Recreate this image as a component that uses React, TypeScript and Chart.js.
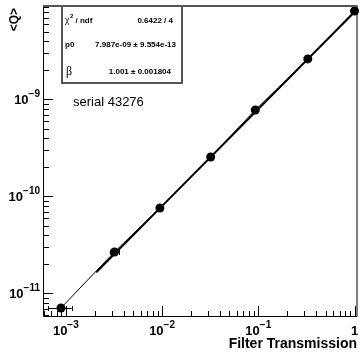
import { useEffect, useRef } from "react";
import { Chart, registerables } from "chart.js";

Chart.register(...registerables);

// ---- data ----
const transmission = [8.9e-4, 3.2e-3, 9.5e-3, 0.032, 0.093, 0.327, 1.0];
const meanQ = [7.09e-12, 2.68e-11, 7.61e-11, 2.55e-10, 7.79e-10, 2.62e-9, 8.17e-9];
const transLow = [6.52e-4, 2.85e-3, 9.3e-3, 0.0313, 0.091, 0.32, 0.98];
const transHigh = [1.153e-3, 3.56e-3, 9.7e-3, 0.0327, 0.095, 0.334, 1.02];
const fitX = [2.07e-3, 1.0];
const fitY = [1.65e-11, 7.99e-9];
const xTickExponents = [-3, -2, -1, 0];
const yTickExponents = [-11, -10, -9];
const statsLabels = ["χ", "p0", "β"];
const statsValues = ["0.6422 / 4", "7.987e-09 ± 9.554e-13", "1.001 ± 0.001804"];
const serialText = "serial 43276";
const xTitle = "Filter Transmission";
const yTitle = "<Q>";

const X_MIN = 5.79e-4;
const X_MAX = 1.074;
const Y_MIN = 5.86e-12;
const Y_MAX = 9.2e-9;

const SANS = '"Liberation Sans", Arial, Helvetica, sans-serif';
const SERIF = '"Liberation Serif", "DejaVu Serif", serif';

function drawPow(ctx: CanvasRenderingContext2D, exp: number, x: number, y: number, align: "center" | "right") {
  const base = exp === 0 ? "1" : "10";
  const sup = exp === 0 ? "" : "\u2212" + String(Math.abs(exp));
  ctx.font = `bold 13px ${SANS}`;
  const wb = ctx.measureText(base).width;
  ctx.font = `bold 10px ${SANS}`;
  const ws = sup ? ctx.measureText(sup).width : 0;
  const total = wb + ws;
  const x0 = align === "center" ? x - total / 2 : x - total;
  ctx.textAlign = "left";
  ctx.textBaseline = "alphabetic";
  ctx.font = `bold 13px ${SANS}`;
  ctx.fillText(base, x0, y);
  if (sup) {
    ctx.font = `bold 10px ${SANS}`;
    ctx.fillText(sup, x0 + wb, y - 7);
  }
}

const rootPlugin = {
  id: "rootStyle",
  beforeDatasetsDraw(chart: any) {
    const ctx: CanvasRenderingContext2D = chart.ctx;
    const xs = chart.scales.x;
    const ys = chart.scales.y;
    ctx.save();
    ctx.strokeStyle = "#000";
    ctx.lineWidth = 1;
    for (let i = 0; i < transmission.length; i++) {
      const yp = Math.round(ys.getPixelForValue(meanQ[i])) + 0.5;
      const xl = xs.getPixelForValue(transLow[i]);
      const xh = xs.getPixelForValue(transHigh[i]);
      ctx.beginPath();
      ctx.moveTo(xl, yp);
      ctx.lineTo(xh, yp);
      ctx.moveTo(Math.round(xl) + 0.5, yp - 2.5);
      ctx.lineTo(Math.round(xl) + 0.5, yp + 2.5);
      ctx.moveTo(Math.round(xh) + 0.5, yp - 2.5);
      ctx.lineTo(Math.round(xh) + 0.5, yp + 2.5);
      ctx.stroke();
    }
    ctx.restore();
  },
  afterDraw(chart: any) {
    const ctx: CanvasRenderingContext2D = chart.ctx;
    const { left, right, top, bottom } = chart.chartArea;
    const xs = chart.scales.x;
    const ys = chart.scales.y;
    ctx.save();
    ctx.fillStyle = "#000";
    ctx.strokeStyle = "#000";
    ctx.lineWidth = 1;

    // frame
    ctx.beginPath();
    ctx.moveTo(left + 0.5, top);
    ctx.lineTo(left + 0.5, bottom + 0.5);
    ctx.lineTo(right - 0.5, bottom + 0.5);
    ctx.lineTo(right - 0.5, top);
    ctx.stroke();
    ctx.strokeStyle = "#555";
    ctx.lineWidth = 2;
    ctx.beginPath();
    ctx.moveTo(left, top);
    ctx.lineTo(right, top);
    ctx.stroke();
    ctx.strokeStyle = "#000";
    ctx.lineWidth = 1;

    // y ticks
    ctx.beginPath();
    for (let n = -13; n <= -7; n++) {
      for (let k = 1; k <= 9; k++) {
        const v = k * Math.pow(10, n);
        if (v < Y_MIN || v > Y_MAX) continue;
        const yp = Math.round(ys.getPixelForValue(v)) + 0.5;
        ctx.moveTo(left, yp);
        ctx.lineTo(left + (k === 1 ? 10 : 6), yp);
      }
    }
    // x ticks
    for (let n = -5; n <= 1; n++) {
      for (let k = 1; k <= 9; k++) {
        const v = k * Math.pow(10, n);
        if (v < X_MIN || v > X_MAX) continue;
        const xp = Math.round(xs.getPixelForValue(v)) + 0.5;
        ctx.moveTo(xp, bottom);
        ctx.lineTo(xp, bottom - (k === 1 ? 10 : 5));
      }
    }
    ctx.stroke();

    // tick labels
    for (const e of xTickExponents) {
      const xp = xs.getPixelForValue(Math.pow(10, e));
      drawPow(ctx, e, xp, 335, "center");
    }
    for (const e of yTickExponents) {
      const yp = ys.getPixelForValue(Math.pow(10, e));
      drawPow(ctx, e, 40, yp + 5, "right");
    }

    // axis titles
    ctx.font = `bold 14px ${SANS}`;
    ctx.textAlign = "right";
    ctx.textBaseline = "alphabetic";
    ctx.fillText(xTitle, 357, 348);

    ctx.save();
    ctx.translate(18, 8);
    ctx.rotate(-Math.PI / 2);
    ctx.font = `bold 12px ${SANS}`;
    ctx.textAlign = "right";
    ctx.fillText(yTitle, 0, 0);
    ctx.restore();

    // serial text
    ctx.font = `13px ${SANS}`;
    ctx.textAlign = "left";
    ctx.fillText(serialText, 73, 106);

    // stats box
    const bx = 62, by = 6, bw = 120, bh = 77;
    ctx.fillStyle = "#fff";
    ctx.fillRect(bx, by, bw, bh);
    ctx.strokeStyle = "#555";
    ctx.lineWidth = 2;
    ctx.strokeRect(bx, by, bw, bh);
    ctx.fillStyle = "#000";

    // row 1: chi2 / ndf
    ctx.textAlign = "left";
    ctx.font = `10px ${SERIF}`;
    ctx.fillText(statsLabels[0], 65, 23);
    const wc = ctx.measureText(statsLabels[0]).width;
    ctx.font = `bold 6px ${SANS}`;
    ctx.fillText("2", 65 + wc + 0.5, 18);
    const w2 = ctx.measureText("2").width;
    ctx.font = `bold 8px ${SANS}`;
    ctx.fillText(" / ndf", 65 + wc + w2 + 0.5, 23);
    ctx.textAlign = "right";
    ctx.fillText(statsValues[0], 173, 23);

    // row 2: p0
    ctx.textAlign = "left";
    ctx.fillText(statsLabels[1], 65, 47);
    ctx.textAlign = "right";
    ctx.fillText(statsValues[1], 176, 47);

    // row 3: beta
    ctx.textAlign = "left";
    ctx.font = `12px ${SERIF}`;
    ctx.fillText(statsLabels[2], 66, 75);
    ctx.font = `bold 8px ${SANS}`;
    ctx.textAlign = "right";
    ctx.fillText(statsValues[2], 171, 74);

    ctx.restore();
  },
};

export default function App() {
  const canvasRef = useRef<HTMLCanvasElement | null>(null);

  useEffect(() => {
    document.body.style.margin = "0";
    const canvas = canvasRef.current;
    if (!canvas) return;
    const chart = new Chart(canvas, {
      type: "scatter",
      data: {
        datasets: [
          {
            label: "data",
            data: transmission.map((x, i) => ({ x, y: meanQ[i] })),
            showLine: true,
            borderColor: "#000",
            borderWidth: 1,
            pointRadius: 4.5,
            pointBorderWidth: 0,
            pointBackgroundColor: "#000",
            clip: false,
          } as any,
          {
            label: "fit",
            data: fitX.map((x, i) => ({ x, y: fitY[i] })),
            showLine: true,
            borderColor: "#000",
            borderWidth: 2,
            pointRadius: 0,
            clip: false,
          } as any,
        ],
      },
      options: {
        responsive: false,
        animation: false,
        devicePixelRatio: 1,
        layout: { padding: { left: 43, right: 2, top: 6, bottom: 38 } },
        plugins: { legend: { display: false }, tooltip: { enabled: false } },
        scales: {
          x: { type: "logarithmic", min: X_MIN, max: X_MAX, display: false },
          y: { type: "logarithmic", min: Y_MIN, max: Y_MAX, display: false },
        },
      },
      plugins: [rootPlugin],
    });
    return () => chart.destroy();
  }, []);

  return (
    <div style={{ width: 362, height: 354, background: "#fff" }}>
      <canvas ref={canvasRef} width={362} height={354} style={{ display: "block" }} />
    </div>
  );
}
